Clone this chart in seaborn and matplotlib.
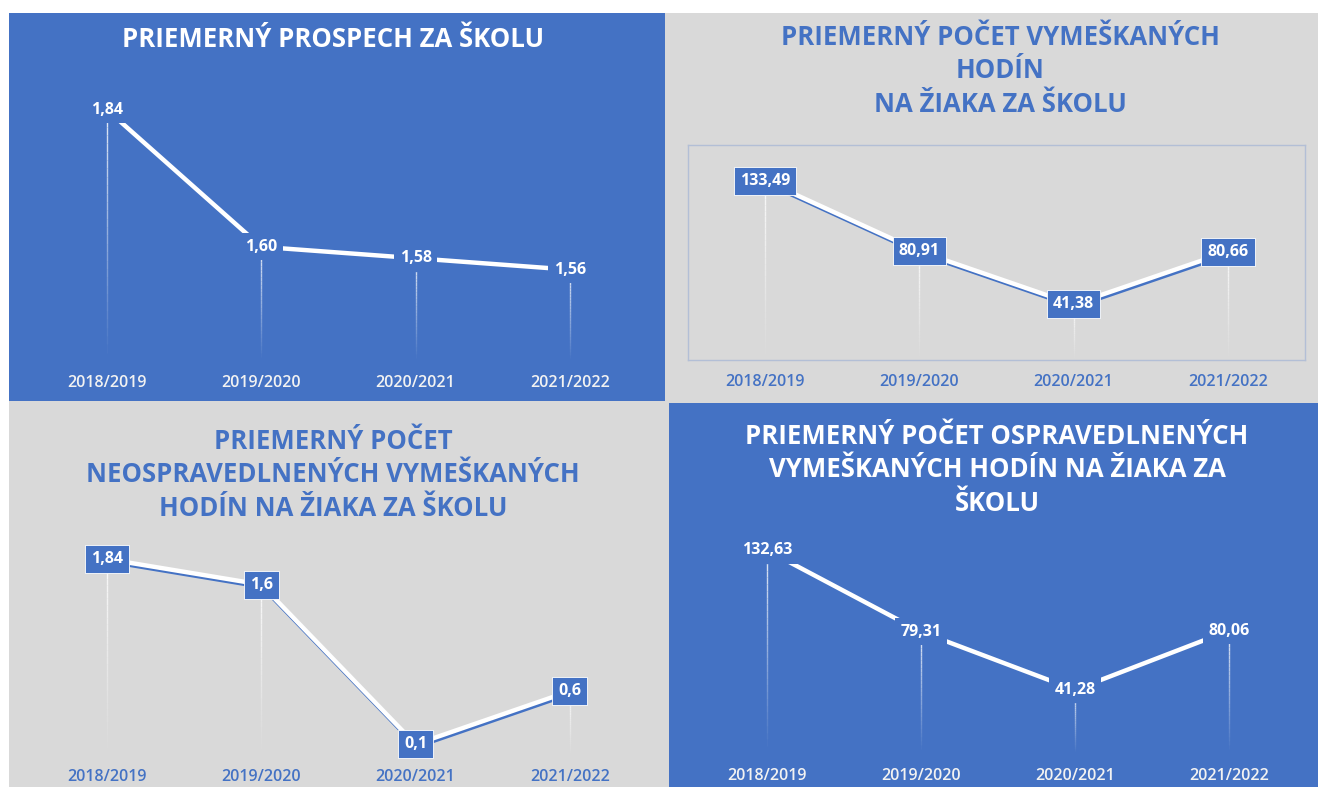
import numpy as np
import pandas as pd
import matplotlib
matplotlib.use("Agg")
import matplotlib.pyplot as plt
import matplotlib.patheffects as pe
from matplotlib.patches import Rectangle
from matplotlib.collections import LineCollection
from matplotlib import font_manager
import seaborn as sns

# ---------------- data ----------------
years = ["2018/2019", "2019/2020", "2020/2021", "2021/2022"]
prospech = [1.84, 1.60, 1.58, 1.56]
vymeskane = [133.49, 80.91, 41.38, 80.66]
neospravedlnene = [1.84, 1.6, 0.1, 0.6]
ospravedlnene = [132.63, 79.31, 41.28, 80.06]

title1 = "PRIEMERNÝ PROSPECH ZA ŠKOLU"
title2 = "PRIEMERNÝ POČET VYMEŠKANÝCH\nHODÍN\nNA ŽIAKA ZA ŠKOLU"
title3 = "PRIEMERNÝ POČET\nNEOSPRAVEDLNENÝCH VYMEŠKANÝCH\nHODÍN NA ŽIAKA ZA ŠKOLU"
title4 = "PRIEMERNÝ POČET OSPRAVEDLNENÝCH\nVYMEŠKANÝCH HODÍN NA ŽIAKA ZA\nŠKOLU"

BLUE = "#4472C4"
GRAY = "#D9D9D9"

sns.set_theme(style="white")
installed = {f.name for f in font_manager.fontManager.ttflist}
fam = [f for f in ["Open Sans", "DejaVu Sans"] if f in installed]
plt.rcParams["font.family"] = fam

W, H = 1318, 787
fig = plt.figure(figsize=(W / 100, H / 100), dpi=100)
fig.patch.set_facecolor("white")


def frect(x0, y0, x1, y1):
    return [x0 / W, 1 - y1 / H, (x1 - x0) / W, (y1 - y0) / H]


def bg(x0, y0, x1, y1, color):
    r = frect(x0, y0, x1, y1)
    fig.patches.append(Rectangle((r[0], r[1]), r[2], r[3], transform=fig.transFigure,
                                 facecolor=color, edgecolor="none", zorder=-5))


bg(9, 13, W, H, GRAY)
bg(9, 13, 665, 401, BLUE)
bg(669, 403, W, H, BLUE)


def fmt2(v):
    return f"{v:.2f}".replace(".", ",")


def fmtg(v):
    return f"{v:g}".replace(".", ",")


def panel(box, values, ylim, line_color, shadow, drop_color, label_fmt, boxed,
          tick_color, tick_pad, frame=False):
    ax = fig.add_axes(frect(*box))
    ax.set_facecolor("none")
    ax.set_zorder(2)
    df = pd.DataFrame({"year": years, "value": values})
    sns.lineplot(data=df, x="year", y="value", ax=ax, color=line_color, lw=3.2,
                 sort=False, zorder=3)
    if shadow:
        ax.lines[0].set_path_effects([
            pe.SimpleLineShadow(offset=(0.8, -1.6), shadow_color=BLUE, alpha=1.0),
            pe.Normal()])
    ax.set_xlim(-0.5, len(years) - 0.5)
    ax.set_ylim(*ylim)
    # drop lines with fade
    n = 30
    for i, v in enumerate(values):
        ys = np.linspace(v, ylim[0], n + 1)
        segs = [[(i, ys[k]), (i, ys[k + 1])] for k in range(n)]
        alphas = np.linspace(0.85, 0.0, n)
        cols = [matplotlib.colors.to_rgba(drop_color, a) for a in alphas]
        ax.add_collection(LineCollection(segs, colors=cols, linewidths=1.0, zorder=2))
    # labels
    for i, v in enumerate(values):
        if boxed:
            bb = dict(boxstyle="square,pad=0.38", fc=BLUE, ec="white", lw=0.6)
        else:
            bb = dict(boxstyle="square,pad=0.35", fc=BLUE, ec="none")
        ax.text(i, v, label_fmt(v), ha="center", va="center", color="white",
                fontsize=11.5, fontweight="bold", bbox=bb, zorder=5)
    ax.set_xlabel("")
    ax.set_ylabel("")
    ax.set_yticks([])
    ax.tick_params(axis="x", length=0, pad=tick_pad, colors=tick_color, labelsize=11.5)
    for t in ax.get_xticklabels():
        t.set_fontweight("semibold")
    for s in ax.spines.values():
        s.set_visible(frame)
        if frame:
            s.set_color("#B3BFD6")
            s.set_linewidth(1.0)
    return ax


panel((30, 87, 647, 361), prospech, (1.4, 1.88), "white", False, "white", fmt2, False,
      "#F2F2F2", 10)
panel((688, 145, 1305, 360), vymeskane, (0, 160), "white", True, "white", fmt2, True,
      BLUE, 10, frame=True)
panel((30, 542, 647, 755), neospravedlnene, (0, 2.0), "white", True, "white", fmtg, True,
      BLUE, 10)
panel((690, 539, 1306, 753), ospravedlnene, (0, 140), "white", False, "white", fmt2, False,
      "#F2F2F2", 11)


def title(x, y, s, color):
    fig.text(x / W, 1 - y / H, s, ha="center", va="top", color=color, fontsize=18.5,
             fontweight="bold", linespacing=1.3)


title(333, 26, title1, "white")
title(1000, 24, title2, BLUE)
title(333, 428, title3, BLUE)
title(997, 423, title4, "white")

fig.savefig("out.png", dpi=100)
